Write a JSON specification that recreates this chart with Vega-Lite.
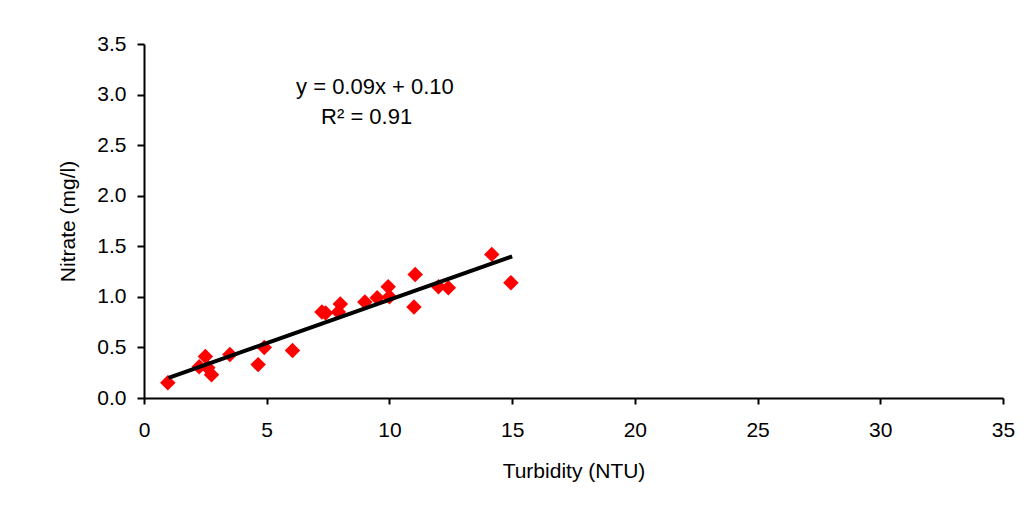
{
  "$schema": "https://vega.github.io/schema/vega-lite/v6.json",
  "autosize": {"type": "none"},
  "padding": {"left": 144, "top": 44, "right": 27, "bottom": 118},
  "width": 859,
  "height": 354,
  "background": "white",
  "config": {
    "font": "Liberation Sans",
    "view": {"stroke": null},
    "axis": {
      "grid": false,
      "domainColor": "black",
      "domainWidth": 2,
      "tickColor": "black",
      "tickWidth": 2,
      "labelColor": "black",
      "titleColor": "black",
      "labelFont": "Liberation Sans",
      "titleFont": "Liberation Sans",
      "labelFontSize": 21,
      "titleFontSize": 21,
      "titleFontWeight": "normal"
    }
  },
  "datasets": {
    "points": [
      {"turbidity": 0.97, "nitrate": 0.15},
      {"turbidity": 2.25, "nitrate": 0.31},
      {"turbidity": 2.5, "nitrate": 0.41},
      {"turbidity": 2.6, "nitrate": 0.30},
      {"turbidity": 2.75, "nitrate": 0.23},
      {"turbidity": 3.5, "nitrate": 0.43},
      {"turbidity": 4.65, "nitrate": 0.33},
      {"turbidity": 4.9, "nitrate": 0.50},
      {"turbidity": 6.05, "nitrate": 0.47},
      {"turbidity": 7.25, "nitrate": 0.85},
      {"turbidity": 7.4, "nitrate": 0.84},
      {"turbidity": 7.92, "nitrate": 0.85},
      {"turbidity": 8.0, "nitrate": 0.93},
      {"turbidity": 9.0, "nitrate": 0.95},
      {"turbidity": 9.5, "nitrate": 0.99},
      {"turbidity": 9.95, "nitrate": 1.10},
      {"turbidity": 10.0, "nitrate": 1.00},
      {"turbidity": 11.05, "nitrate": 1.22},
      {"turbidity": 11.0, "nitrate": 0.90},
      {"turbidity": 12.0, "nitrate": 1.10},
      {"turbidity": 12.4, "nitrate": 1.09},
      {"turbidity": 14.17, "nitrate": 1.42},
      {"turbidity": 14.95, "nitrate": 1.14}
    ],
    "fit": [
      {"turbidity": 1.0, "nitrate": 0.20},
      {"turbidity": 15.0, "nitrate": 1.40}
    ],
    "labels": [
      {"turbidity": 9.41, "nitrate": 3.07, "label": "y = 0.09x + 0.10"},
      {"turbidity": 9.07, "nitrate": 2.78, "label": "R² = 0.91"}
    ]
  },
  "layer": [
    {
      "data": {"name": "points"},
      "mark": {"type": "point", "shape": "diamond", "filled": true, "color": "#ff0000", "opacity": 1, "size": 240},
      "encoding": {
        "x": {
          "field": "turbidity", "type": "quantitative",
          "scale": {"domain": [0, 35], "nice": false, "zero": true},
          "axis": {"title": "Turbidity (NTU)", "values": [0, 5, 10, 15, 20, 25, 30, 35], "tickSize": 6, "labelPadding": 15, "titlePadding": 20, "labelFlush": false}
        },
        "y": {
          "field": "nitrate", "type": "quantitative",
          "scale": {"domain": [0, 3.5], "nice": false},
          "axis": {"title": "Nitrate (mg/l)", "values": [0, 0.5, 1, 1.5, 2, 2.5, 3, 3.5], "format": ".1f", "tickSize": 7, "labelPadding": 11, "titlePadding": 18, "labelFlush": false}
        }
      }
    },
    {
      "data": {"name": "fit"},
      "mark": {"type": "line", "color": "black", "strokeWidth": 4},
      "encoding": {
        "x": {"field": "turbidity", "type": "quantitative"},
        "y": {"field": "nitrate", "type": "quantitative"}
      }
    },
    {
      "data": {"name": "labels"},
      "mark": {"type": "text", "fontSize": 22, "color": "black", "align": "center", "baseline": "middle", "font": "Liberation Sans"},
      "encoding": {
        "x": {"field": "turbidity", "type": "quantitative"},
        "y": {"field": "nitrate", "type": "quantitative"},
        "text": {"field": "label"}
      }
    }
  ]
}
